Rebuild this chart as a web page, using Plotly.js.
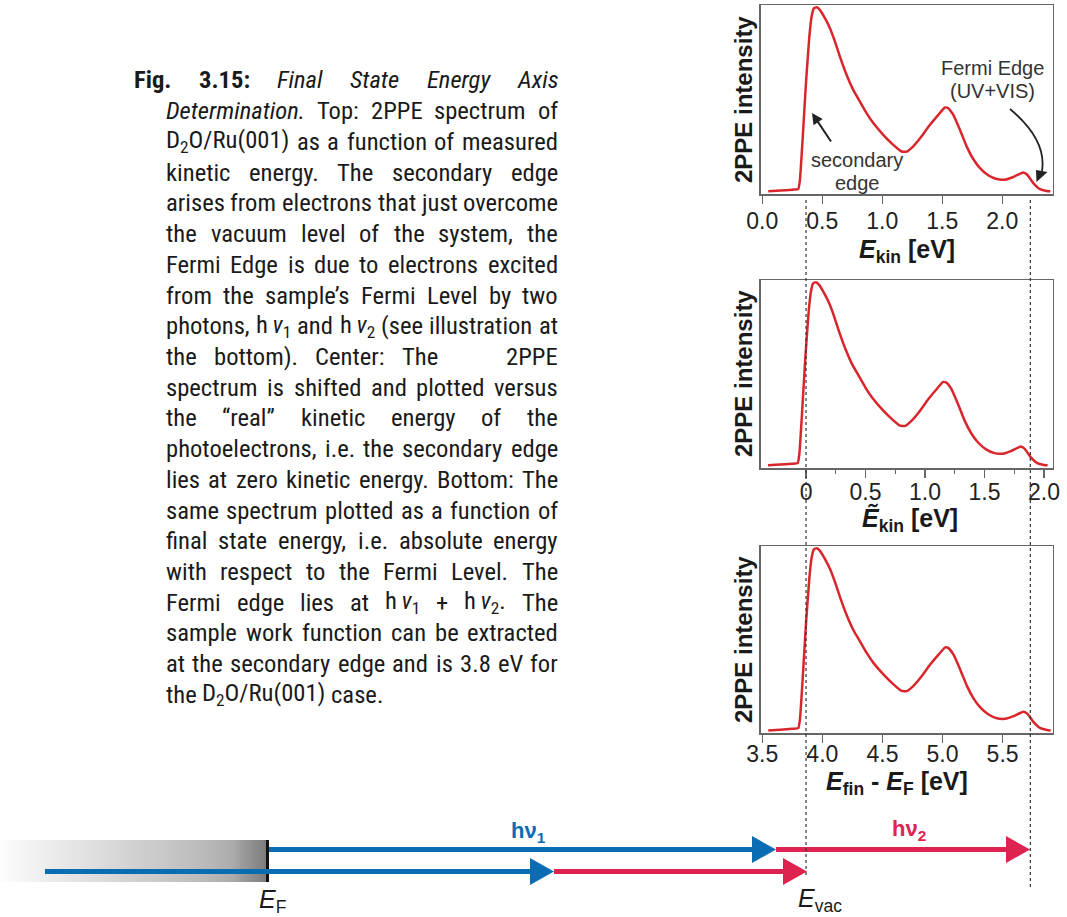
<!DOCTYPE html>
<html><head><meta charset="utf-8">
<script src="https://cdn.plot.ly/plotly-3.0.1.min.js"></script>
<style>html,body{margin:0;padding:0;background:#fff}</style>
</head><body><div id="chart" style="width:1067px;height:917px"></div>
<script>
const W = 1067, H = 917;

// ---- data (spectrum, measured kinetic energy) ----
const eKinMeasured = [0.05, 0.15, 0.25, 0.30, 0.314, 0.336, 0.364, 0.392, 0.411, 0.43, 0.453, 0.48, 0.522, 0.564, 0.606, 0.647, 0.703, 0.758, 0.814, 0.869, 0.925, 1.008, 1.092, 1.16, 1.203, 1.258, 1.328, 1.397, 1.467, 1.522, 1.55, 1.592, 1.647, 1.703, 1.758, 1.814, 1.883, 1.953, 2.022, 2.092, 2.147, 2.175, 2.208, 2.258, 2.314, 2.37, 2.40];
const intensity = [1.4, 1.8, 2.3, 2.6, 7.6, 28.7, 58.6, 83, 93.8, 98.2, 98.8, 97.4, 93, 87.7, 80.6, 72.7, 63, 55.1, 48.9, 42.8, 37.5, 31.3, 26, 22.5, 22.4, 25.2, 30.5, 36.6, 41.9, 45.8, 45.4, 41.9, 34, 25.2, 18.5, 13.7, 9.9, 7.9, 7.6, 9.0, 10.7, 11.4, 10.2, 5.8, 2.6, 1.6, 1.4];
const secondaryEdge = 0.37;     // measured E_kin of the secondary edge (eV)
const finalStateOffset = 3.5;   // E_fin - E_F = measured E_kin + offset (eV)
const fermiEdgeReal = 1.885;    // Fermi edge on the real kinetic energy scale (eV)

const topTickVals = [0, 0.5, 1, 1.5, 2],   topTickText = ['0.0', '0.5', '1.0', '1.5', '2.0'];
const midTickVals = [0, 0.5, 1, 1.5, 2],   midTickText = ['0', '0.5', '1.0', '1.5', '2.0'];
const midMinorVals = [0.25, 0.75, 1.25, 1.75];
const botTickVals = [3.5, 4, 4.5, 5, 5.5], botTickText = ['3.5', '4.0', '4.5', '5.0', '5.5'];

const captionLines = [
 "<b>Fig.</b> <b>3.15:</b> <i>Final</i> <i>State</i> <i>Energy</i> <i>Axis</i>",
 "<i>Determination.</i> Top: 2PPE spectrum of",
 "D<sub>2</sub>O/Ru(001) as a function of measured",
 "kinetic energy. The secondary edge",
 "arises from electrons that just overcome",
 "the vacuum level of the system, the",
 "Fermi Edge is due to electrons excited",
 "from the sample\u2019s Fermi Level by two",
 "photons, h\u2009<i>\u03bd</i><sub>1</sub> and h\u2009<i>\u03bd</i><sub>2</sub> (see illustration at",
 "the bottom). Center: The    2PPE",
 "spectrum is shifted and plotted versus",
 "the \u201creal\u201d kinetic energy of the",
 "photoelectrons, i.e. the secondary edge",
 "lies at zero kinetic energy. Bottom: The",
 "same spectrum plotted as a function of",
 "final state energy, i.e. absolute energy",
 "with respect to the Fermi Level. The",
 "Fermi edge lies at h\u2009<i>\u03bd</i><sub>1</sub> + h\u2009<i>\u03bd</i><sub>2</sub>. The",
 "sample work function can be extracted",
 "at the secondary edge and is 3.8 eV for",
 "the D<sub>2</sub>O/Ru(001) case."
];

// ---- derived x scales ----
const eKinReal = eKinMeasured.map(v => v - secondaryEdge);
const eFinal = eKinMeasured.map(v => v + finalStateOffset);

// ---- helpers ----
const px = p => p / W;
const py = p => 1 - p / H;
const F = '"Liberation Sans", Arial, sans-serif';
const BLUE = '#0a6db3', RED = '#df2350', CURVE = '#d8262c';

const cv = document.createElement('canvas').getContext('2d');
function measure(tok, size, fam) {
  let b = false, it = false, s = false, w = 0, m;
  const re = /<(\/?)(b|i|sub)>|[^<]+/g;
  while ((m = re.exec(tok))) {
    if (m[2]) { const on = !m[1]; if (m[2] === 'b') b = on; else if (m[2] === 'i') it = on; else s = on; continue; }
    cv.font = (it ? 'italic ' : '') + (b ? 'bold ' : '') + (s ? size * 0.7 : size) + 'px ' + fam;
    w += cv.measureText(m[0]).width;
  }
  return w;
}
function available(name) {
  const s = 'abcdefghijklmnopqrstuvwxyzABCDEFGHIJKLM0123456789';
  cv.font = '40px monospace'; const a = cv.measureText(s).width;
  cv.font = '40px "' + name + '", monospace'; const b = cv.measureText(s).width;
  cv.font = '40px serif'; const c = cv.measureText(s).width;
  cv.font = '40px "' + name + '", serif'; const d = cv.measureText(s).width;
  return a !== b && c !== d;
}
const xR = 558;
function fitSize(fam) {
  const base = 24; let ratio = 10;
  captionLines.forEach((line, li) => {
    if (li === captionLines.length - 1) return;
    const toks = line.split(' ');
    const x0 = li === 0 ? 134 : 166;
    const nat = toks.reduce((a, t) => a + (t ? measure(t, base, fam) : 0), 0) + (toks.length - 1) * measure(' ', base, fam);
    ratio = Math.min(ratio, (xR - x0) / nat);
  });
  return base * ratio;
}
const candidates = ['Liberation Sans Narrow', 'Arial Narrow', 'Nimbus Sans Narrow', 'Noto Sans ExtraCondensed',
  'Roboto Condensed', 'Open Sans Condensed', 'Noto Sans Condensed', 'DejaVu Sans Condensed', 'Noto Sans SemiCondensed', 'Liberation Sans'];
let CAP = '"Liberation Sans", sans-serif', capSize = 0;
for (const c of candidates) {
  if (!available(c)) continue;
  const fam = '"' + c + '", sans-serif';
  const s = fitSize(fam);
  if (s >= 22.5) { CAP = fam; capSize = Math.min(s, 25.5); break; }
  if (s > capSize) { CAP = fam; capSize = s; }
}
if (!capSize) capSize = fitSize(CAP);
capSize = Math.round(capSize * 10) / 10;

const lineStyle = {color: CURVE, width: 2.5, shape: 'spline', smoothing: 0.4};
const traces = [
  {x: eKinMeasured, y: intensity, xaxis: 'x', yaxis: 'y', mode: 'lines', line: lineStyle, hoverinfo: 'skip'},
  {x: eKinReal, y: intensity, xaxis: 'x2', yaxis: 'y2', mode: 'lines', line: lineStyle, hoverinfo: 'skip'},
  {x: eFinal, y: intensity, xaxis: 'x3', yaxis: 'y3', mode: 'lines', line: lineStyle, hoverinfo: 'skip'}
];

const xDom = [760.7 / W, 1052.7 / W];
const ax = {showline: true, mirror: true, linecolor: '#666', linewidth: 1.5, ticks: 'outside', ticklen: 8,
  tickwidth: 1.5, tickcolor: '#666', tickfont: {family: F, size: 23, color: '#222'}, showgrid: false,
  zeroline: false, tickmode: 'array', fixedrange: true};
const ay = {showline: true, mirror: true, linecolor: '#666', linewidth: 1.5, ticks: '', showticklabels: false,
  showgrid: false, zeroline: false, range: [0, 100], fixedrange: true};

// ---- caption: justified text, one annotation per word ----
const annotations = [];
(function buildCaption() {
  const size = capSize;
  const spaceW = measure(' ', size, CAP);
  captionLines.forEach((line, li) => {
    const toks = line.split(' ');
    const x0 = li === 0 ? 134 : 166;
    const widths = toks.map(t => t ? measure(t, size, CAP) : 0);
    const sum = widths.reduce((a, b) => a + b, 0);
    const last = li === captionLines.length - 1;
    const gap = last ? spaceW : (xR - x0 - sum) / (toks.length - 1);
    const yc = 80 + 30.72 * li;
    let x = x0;
    toks.forEach((t, k) => {
      if (t) annotations.push({xref: 'paper', yref: 'paper', x: px(x), y: py(yc), xanchor: 'left', yanchor: 'middle',
        text: t, showarrow: false, borderpad: 0, borderwidth: 0, font: {family: CAP, size: size, color: '#1a1a1a'}});
      x += widths[k] + gap;
    });
  });
})();

function txt(x, y, text, size, color, extra) {
  annotations.push(Object.assign({xref: 'paper', yref: 'paper', x: px(x), y: py(y), xanchor: 'center', yanchor: 'middle',
    text: text, showarrow: false, font: {family: F, size: size, color: color}}, extra || {}));
}
// axis titles
[100, 374, 640].forEach(yc => txt(743, yc, '<b>2PPE intensity</b>', 24, '#1a1a1a', {textangle: -90}));
txt(907, 251, '<b><i>E</i><sub>kin</sub> [eV]</b>', 25, '#1a1a1a');
txt(910, 519, '<b><i>\u1ebc</i><sub>kin</sub> [eV]</b>', 25, '#1a1a1a');
txt(897, 783, '<b><i>E</i><sub>fin</sub> - <i>E</i><sub>F</sub> [eV]</b>', 25, '#1a1a1a');
// in-plot labels
txt(992, 68, 'Fermi Edge', 20, '#333');
txt(992, 91, '(UV+VIS)', 20, '#333');
txt(857, 160, 'secondary', 20, '#333');
txt(857, 183, 'edge', 20, '#333');
annotations.push({xref: 'paper', yref: 'paper', x: px(812), y: py(113), ax: 20, ay: 30, text: '', showarrow: true,
  arrowhead: 2, arrowsize: 1.1, arrowwidth: 2, arrowcolor: '#222'});
// bottom diagram labels
txt(528, 832, '<b>h\u03bd<sub>1</sub></b>', 22, BLUE);
txt(909, 830, '<b>h\u03bd<sub>2</sub></b>', 22, RED);
txt(272, 901, '<i>E</i><sub>F</sub>', 25, '#1a1a1a');
txt(820, 900, '<i>E</i><sub>vac</sub>', 25, '#1a1a1a');

// ---- shapes ----
const shapes = [];
const P = (x, y) => px(x) + ' ' + py(y);
// curved arrow to Fermi edge
shapes.push({type: 'path', xref: 'paper', yref: 'paper', path: 'M ' + P(1010, 109) + ' Q ' + P(1047, 140) + ' ' + P(1042, 171),
  line: {color: '#222', width: 1.8}});
shapes.push({type: 'path', xref: 'paper', yref: 'paper', path: 'M ' + P(1036.5, 182) + ' L ' + P(1047.5, 172) + ' L ' + P(1036, 170) + ' Z',
  fillcolor: '#222', line: {width: 0}});
// gradient block (Fermi sea)
const gradStops = [[0, 252], [100, 220], [200, 188], [232, 172], [245, 152], [258, 135], [267, 122]];
function grayAt(x) {
  for (let i = 1; i < gradStops.length; i++) {
    if (x <= gradStops[i][0]) {
      const [a, ga] = gradStops[i - 1], [b, gb] = gradStops[i];
      return Math.round(ga + (gb - ga) * (x - a) / (b - a));
    }
  }
  return gradStops[gradStops.length - 1][1];
}
for (let x = 0; x < 267; x += 3) {
  const g = grayAt(x + 1.5);
  shapes.push({type: 'rect', xref: 'paper', yref: 'paper', x0: px(x), x1: px(x + 3.4), y0: py(882), y1: py(840),
    fillcolor: `rgb(${g},${g},${g})`, line: {width: 0}, layer: 'below'});
}
shapes.push({type: 'line', xref: 'paper', yref: 'paper', x0: px(267.5), x1: px(267.5), y0: py(840), y1: py(882), line: {color: '#111', width: 3}});
function arrow(xs, xe, y, color) {
  shapes.push({type: 'line', xref: 'paper', yref: 'paper', x0: px(xs), x1: px(xe - 23), y0: py(y), y1: py(y), line: {color: color, width: 5}});
  shapes.push({type: 'path', xref: 'paper', yref: 'paper', path: 'M ' + P(xe - 24, y - 13.5) + ' L ' + P(xe, y) + ' L ' + P(xe - 24, y + 13.5) + ' Z',
    fillcolor: color, line: {width: 0}});
}
arrow(269, 776, 849.5, BLUE);
arrow(776, 1030, 849.5, RED);
arrow(45, 554, 871.5, BLUE);
arrow(554, 807, 871.5, RED);
// dotted guide lines through all panels (real kinetic energy scale)
shapes.push({type: 'line', xref: 'x2', yref: 'paper', x0: 0, x1: 0, y0: py(200), y1: py(878), line: {color: '#333', width: 1.2, dash: 'dot'}});
shapes.push({type: 'line', xref: 'x2', yref: 'paper', x0: fermiEdgeReal, x1: fermiEdgeReal, y0: py(200), y1: py(889), line: {color: '#333', width: 1.2, dash: 'dot'}});

const layout = {
  width: W, height: H, autosize: false, margin: {l: 0, r: 0, t: 0, b: 0},
  paper_bgcolor: '#fff', plot_bgcolor: 'rgba(0,0,0,0)', showlegend: false,
  xaxis: Object.assign({}, ax, {domain: xDom, anchor: 'y', range: [-0.013, 2.42], tickvals: topTickVals, ticktext: topTickText, ticklabelstandoff: -2}),
  yaxis: Object.assign({}, ay, {domain: [py(194), py(5)], anchor: 'x'}),
  xaxis2: Object.assign({}, ax, {domain: xDom, anchor: 'y2', range: [-0.381, 2.073], tickvals: midTickVals, ticktext: midTickText, ticklabelstandoff: -5,
    minor: {tickmode: 'array', tickvals: midMinorVals, ticks: 'outside', ticklen: 4, tickcolor: '#666', tickwidth: 1.2}}),
  yaxis2: Object.assign({}, ay, {domain: [py(468), py(280)], anchor: 'x2'}),
  xaxis3: Object.assign({}, ax, {domain: xDom, anchor: 'y3', range: [3.487, 5.917], tickvals: botTickVals, ticktext: botTickText, ticklabelstandoff: -8}),
  yaxis3: Object.assign({}, ay, {domain: [py(733), py(546)], anchor: 'x3'}),
  annotations: annotations, shapes: shapes
};
Plotly.newPlot('chart', traces, layout, {displayModeBar: false, staticPlot: true});
</script></body></html>
